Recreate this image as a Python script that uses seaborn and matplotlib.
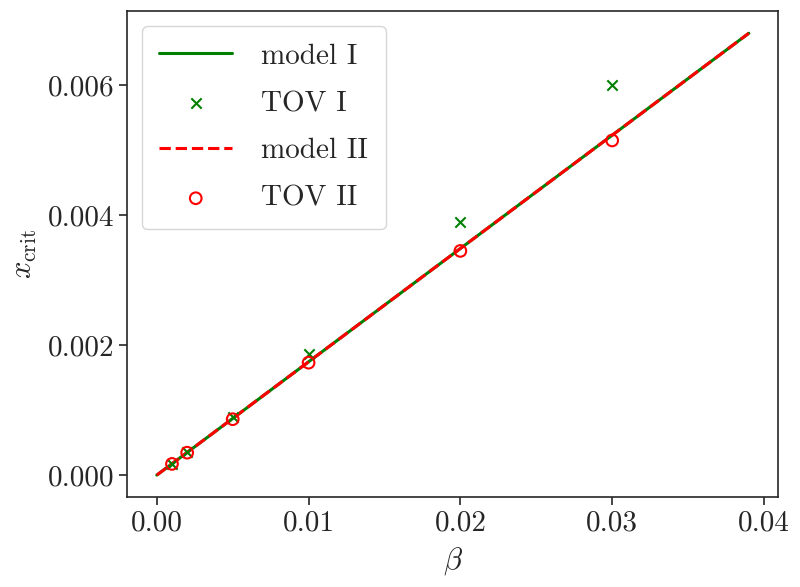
import seaborn as sns
import matplotlib.pyplot as plt

sns.set_style("ticks")
plt.rcParams["font.family"] = ["cmr10", "DejaVu Serif"]
plt.rcParams["mathtext.fontset"] = "cm"
plt.rcParams["axes.formatter.use_mathtext"] = True

# model curves (straight lines)
beta_model = [0.0, 0.039]
xcrit_model_1 = [0.0, 0.0068]
xcrit_model_2 = [0.0, 0.0068]

# TOV results
beta_tov = [0.001, 0.002, 0.005, 0.01, 0.02, 0.03]
xcrit_tov_1 = [0.000175, 0.00035, 0.00089, 0.00186, 0.00389, 0.0060]
xcrit_tov_2 = [0.000172, 0.000345, 0.00086, 0.00173, 0.00345, 0.00515]

fig = plt.figure(figsize=(8, 5.87), dpi=100)
ax = fig.add_axes([0.159, 0.153, 0.814, 0.828])

sns.lineplot(x=beta_model, y=xcrit_model_1, color="green", lw=2.2, label="model I", ax=ax)
sns.scatterplot(x=beta_tov, y=xcrit_tov_1, marker="x", color="green", s=55, linewidth=1.5,
                label="TOV I", ax=ax, zorder=3)
sns.lineplot(x=beta_model, y=xcrit_model_2, color="red", lw=2.2, linestyle="--", label="model II", ax=ax)
sns.scatterplot(x=beta_tov, y=xcrit_tov_2, marker="o", facecolor="none", edgecolor="red", s=70,
                linewidth=1.5, label="TOV II", ax=ax, zorder=3)

ax.set_xticks([0.0, 0.01, 0.02, 0.03, 0.04])
ax.set_yticks([0.0, 0.002, 0.004, 0.006])
ax.set_xticklabels(["0.00", "0.01", "0.02", "0.03", "0.04"])
ax.set_yticklabels(["0.000", "0.002", "0.004", "0.006"])
ax.tick_params(labelsize=21, length=6, width=1.2)
for sp in ax.spines.values():
    sp.set_linewidth(1.2)

ax.set_xlabel(r"$\beta$", fontsize=22, labelpad=6)
ax.set_ylabel(r"$x_{\rm crit}$", fontsize=22, labelpad=6)
ax.legend(loc="upper left", fontsize=21, handlelength=2.5, handletextpad=1.0,
          borderpad=0.6, labelspacing=0.72)

fig.savefig("out.png", dpi=100)
